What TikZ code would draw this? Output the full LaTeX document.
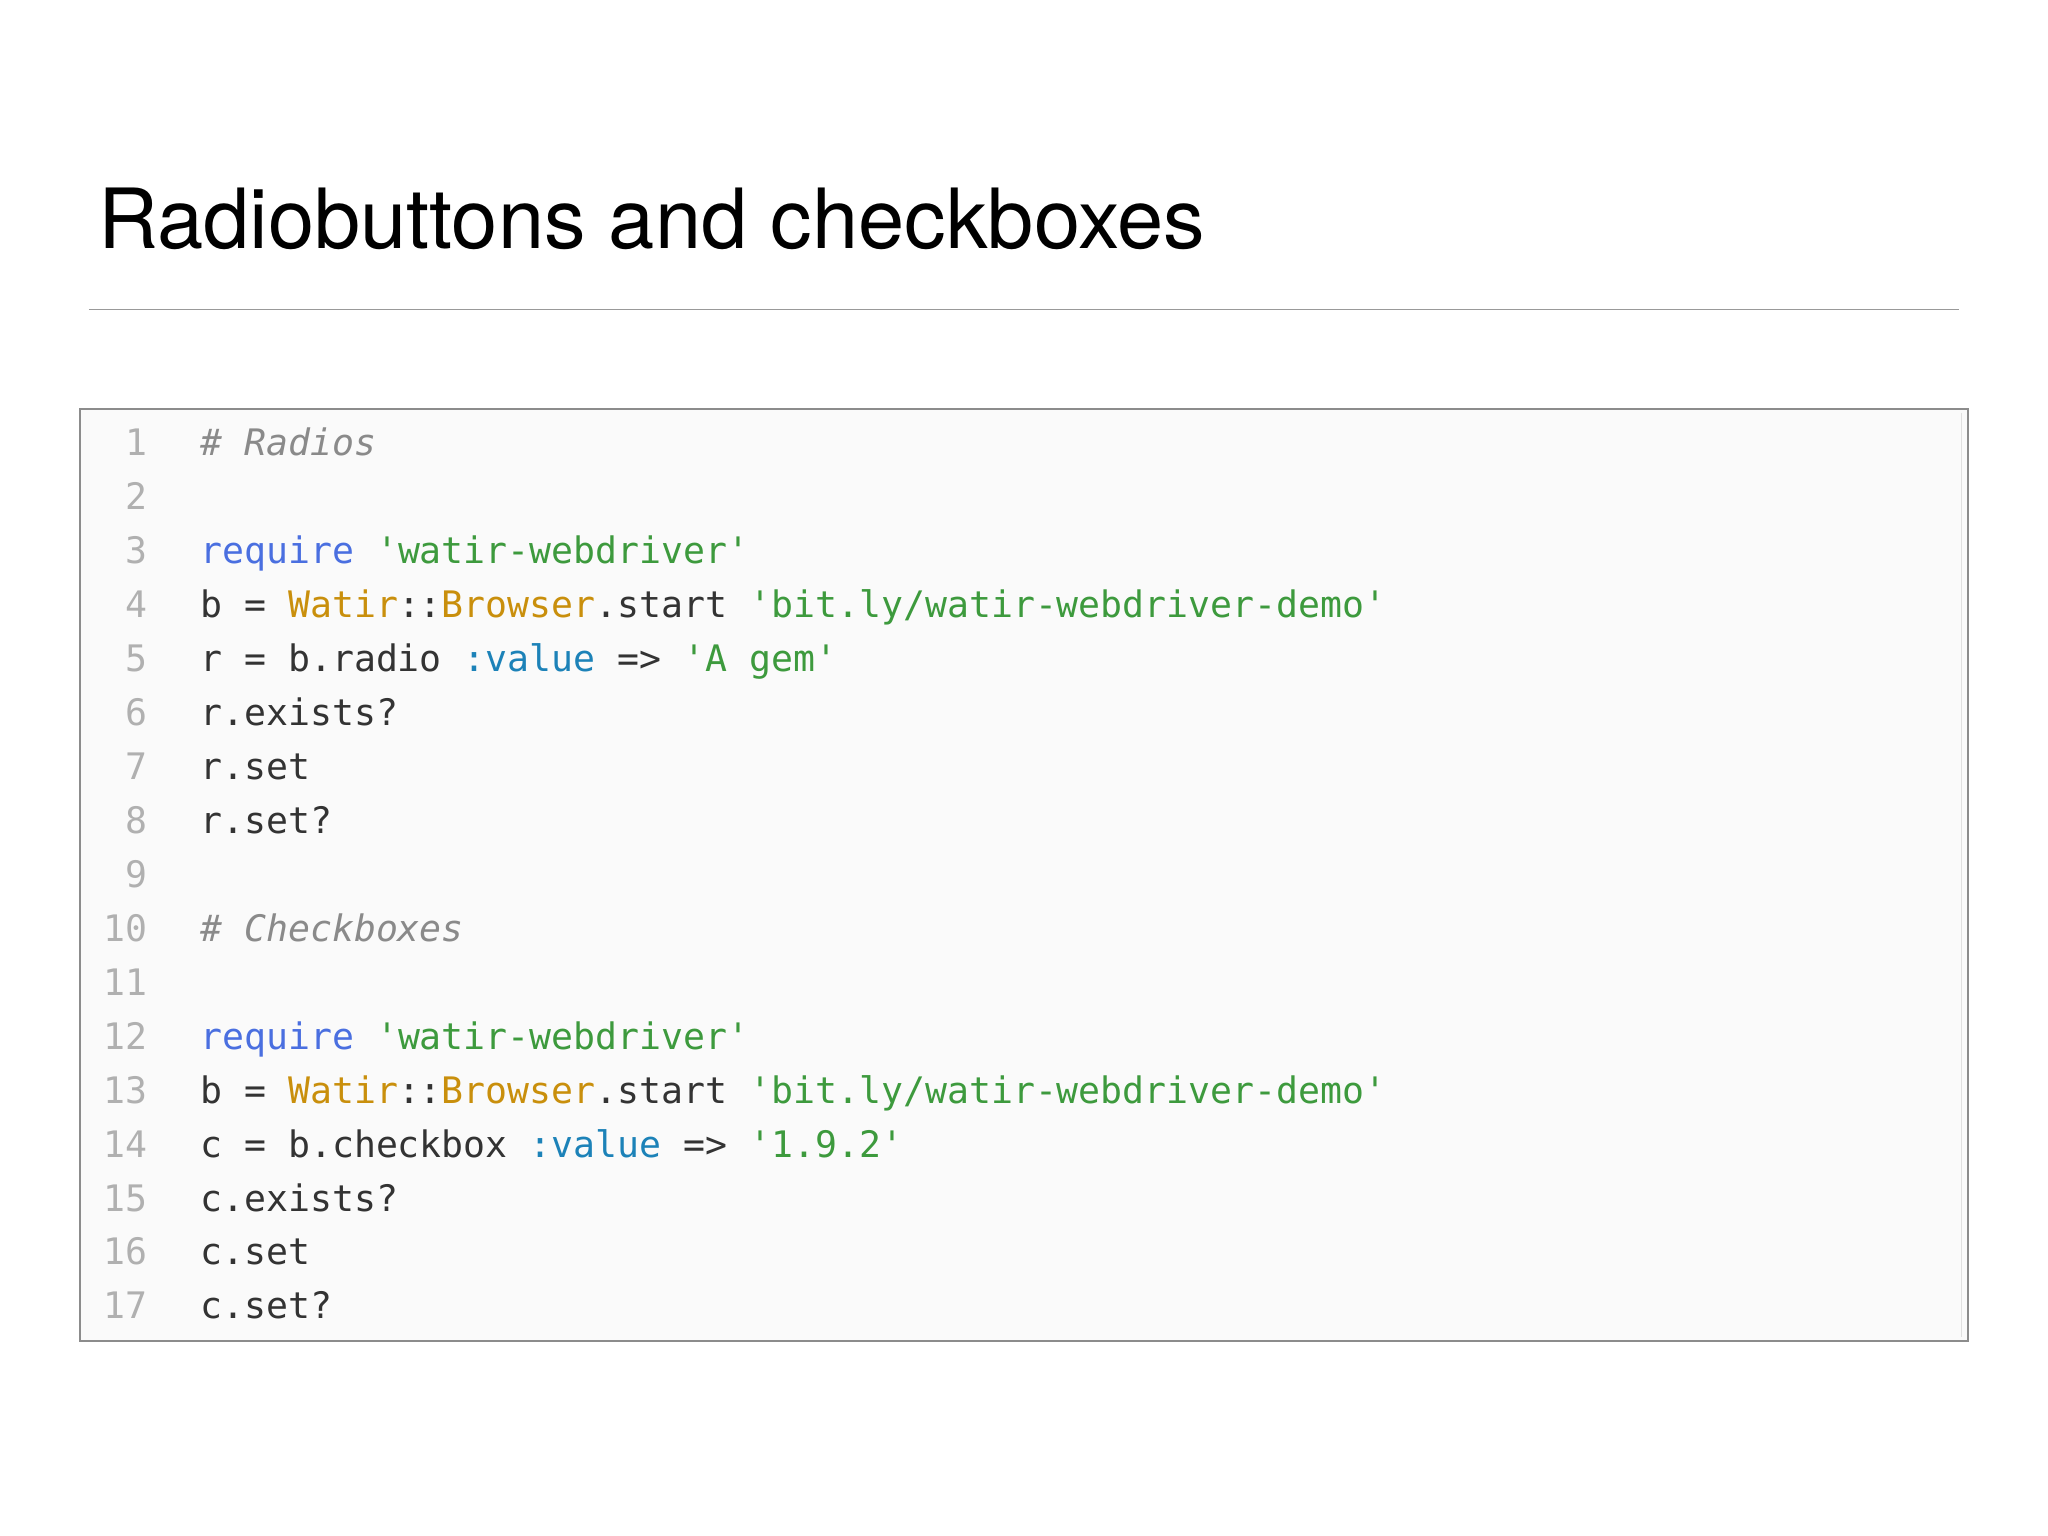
\documentclass[tikz,border=0pt]{standalone}
\usepackage{fontspec}
\setmainfont{TeX Gyre Heros}
\setmonofont{DejaVu Sans Mono}
\definecolor{kw}{HTML}{4A6FE0}
\definecolor{str}{HTML}{3D9A3D}
\definecolor{cls}{HTML}{C98F0C}
\definecolor{sym}{HTML}{1C82B8}
\definecolor{cmt}{HTML}{8A8A8A}
\definecolor{lno}{HTML}{B0B0B0}
\definecolor{txt}{HTML}{333333}
\tikzset{code/.style={anchor=base west,inner sep=0,font=\ttfamily\fontsize{15.9}{17}\selectfont,text=txt},
lnum/.style={anchor=base east,inner sep=0,font=\ttfamily\fontsize{15.9}{17}\selectfont,text=lno}}
\begin{document}
\begin{tikzpicture}[x=0.02cm,y=-0.02cm]
\useasboundingbox (0,0) rectangle (1568,1176);
\fill[white] (0,0) rectangle (1568,1176);
\node[anchor=base west,inner sep=0,font=\fontsize{36.2}{38}\selectfont] (title) at (75,190) {Radiobuttons and checkboxes};
\draw[gray!80,line width=0.6pt] (68,237) -- (1500,237);
\draw[fill=black!2,draw=black!45,line width=0.8pt] (61,313) rectangle (1507,1027);
\draw[black!12] (1502,316) -- (1502,1024);
\newcommand{\ly}[1]{349+41.3*(#1-1)}
\foreach \i in {1,...,17}{\node[lnum] (n\i) at (113,{\ly{\i}}) {\i};}
\node[code] (c1) at (153,{\ly{1}}) {\textcolor{cmt}{\itshape\# Radios}};
\node[code] (c3) at (153,{\ly{3}}) {\textcolor{kw}{require} \textcolor{str}{'watir-webdriver'}};
\node[code] (c4) at (153,{\ly{4}}) {b = \textcolor{cls}{Watir}::\textcolor{cls}{Browser}.start \textcolor{str}{'bit.ly/watir-webdriver-demo'}};
\node[code] (c5) at (153,{\ly{5}}) {r = b.radio \textcolor{sym}{:value} => \textcolor{str}{'A gem'}};
\node[code] (c6) at (153,{\ly{6}}) {r.exists?};
\node[code] (c7) at (153,{\ly{7}}) {r.set};
\node[code] (c8) at (153,{\ly{8}}) {r.set?};
\node[code] (c10) at (153,{\ly{10}}) {\textcolor{cmt}{\itshape\# Checkboxes}};
\node[code] (c12) at (153,{\ly{12}}) {\textcolor{kw}{require} \textcolor{str}{'watir-webdriver'}};
\node[code] (c13) at (153,{\ly{13}}) {b = \textcolor{cls}{Watir}::\textcolor{cls}{Browser}.start \textcolor{str}{'bit.ly/watir-webdriver-demo'}};
\node[code] (c14) at (153,{\ly{14}}) {c = b.checkbox \textcolor{sym}{:value} => \textcolor{str}{'1.9.2'}};
\node[code] (c15) at (153,{\ly{15}}) {c.exists?};
\node[code] (c16) at (153,{\ly{16}}) {c.set};
\node[code] (c17) at (153,{\ly{17}}) {c.set?};
\end{tikzpicture}
\end{document}
